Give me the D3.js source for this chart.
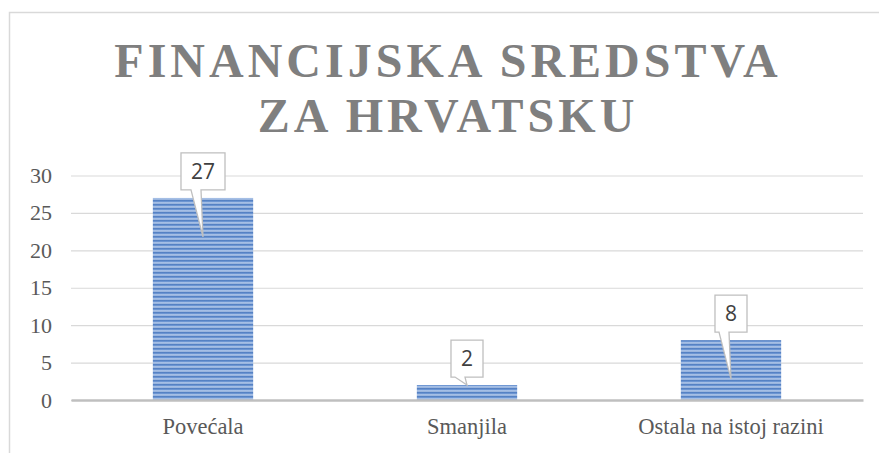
<!DOCTYPE html>
<html lang="hr">
<head>
<meta charset="UTF-8">
<title>Financijska sredstva za Hrvatsku</title>
<script src="https://d3js.org/d3.v7.min.js"></script>
<style>
  body { margin: 0; background: #fff; }
  svg { display: block; }
  .title { font-family: "Liberation Serif", "Times New Roman", serif; font-weight: bold; fill: #7f7f7f; }
  .tick text, .cat { font-family: "Liberation Serif", "Times New Roman", serif; fill: #595959; }
  .lbl { font-family: "Open Sans", "Liberation Sans", sans-serif; fill: #404040; }
</style>
</head>
<body>
<div id="chart"></div>
<script>
// data
const categories = ["Povećala", "Smanjila", "Ostala na istoj razini"];
const values = [27, 2, 8];
const yTicks = [0, 5, 10, 15, 20, 25, 30];
const titleLines = ["FINANCIJSKA SREDSTVA", "ZA HRVATSKU"];

const W = 879, H = 453;
const plot = { left: 71, right: 863, top: 175.5, bottom: 400 };

const svg = d3.select("#chart").append("svg")
    .attr("width", W).attr("height", H);

// striped fill for the bars
const defs = svg.append("defs");
const grad = defs.append("linearGradient")
    .attr("id", "stripeGrad").attr("x1", 0).attr("y1", 0).attr("x2", 0).attr("y2", 1);
grad.append("stop").attr("offset", "0%").attr("stop-color", "#4a78bd");
grad.append("stop").attr("offset", "45%").attr("stop-color", "#739bd6");
grad.append("stop").attr("offset", "75%").attr("stop-color", "#c8d8f0");
grad.append("stop").attr("offset", "100%").attr("stop-color", "#6b92cd");
const pat = defs.append("pattern")
    .attr("id", "stripes").attr("patternUnits", "userSpaceOnUse")
    .attr("width", 8).attr("height", 4);
pat.append("rect").attr("width", 8).attr("height", 4).attr("fill", "url(#stripeGrad)");

// outer border
svg.append("rect")
    .attr("x", 9.5).attr("y", 12.5)
    .attr("width", W).attr("height", H)
    .attr("fill", "none").attr("stroke", "#d9d9d9").attr("stroke-width", 1.5);

// title
svg.append("g").selectAll("text")
  .data(titleLines)
  .enter().append("text")
    .attr("class", "title")
    .attr("x", 448)
    .attr("y", (d, i) => 77 + i * 55)
    .attr("text-anchor", "middle")
    .attr("font-size", 48)
    .attr("letter-spacing", 4)
    .text(d => d);

const x = d3.scaleBand()
    .domain(categories)
    .range([plot.left, plot.right])
    .paddingInner(0.62).paddingOuter(0.31);

const y = d3.scaleLinear()
    .domain([0, 30])
    .range([plot.bottom, plot.top]);

// gridlines + y labels
const yAxis = svg.append("g")
    .attr("transform", `translate(${plot.left},0)`)
    .call(d3.axisLeft(y).tickValues(yTicks).tickSize(-(plot.right - plot.left)).tickPadding(19));
yAxis.select(".domain").remove();
yAxis.selectAll(".tick line").attr("stroke", "#d9d9d9").attr("stroke-width", 1.2);
yAxis.selectAll(".tick text").attr("font-size", 22);

// bars
svg.append("g").selectAll("rect")
  .data(values)
  .enter().append("rect")
    .attr("x", (d, i) => x(categories[i]))
    .attr("y", d => y(d))
    .attr("width", x.bandwidth())
    .attr("height", d => y(0) - y(d))
    .attr("fill", "url(#stripes)");

// category axis
const xAxis = svg.append("g")
    .attr("transform", `translate(0,${plot.bottom})`)
    .call(d3.axisBottom(x).tickSize(0).tickPadding(18));
xAxis.select(".domain").attr("stroke", "#bfbfbf").attr("stroke-width", 2.5);
xAxis.selectAll(".tick text").attr("class", "cat").attr("font-size", 22.5);

// callout data labels
const lbl = svg.append("g").selectAll("g")
  .data(values)
  .enter().append("g");

lbl.each(function(d, i) {
  const g = d3.select(this);
  const cx = x(categories[i]) + x.bandwidth() / 2;
  const top = y(d);
  const boxB = top - 8, boxT = boxB - 37;
  const t = g.append("text")
      .attr("class", "lbl")
      .attr("x", cx).attr("y", boxB - 11)
      .attr("text-anchor", "middle")
      .attr("font-size", 21)
      .text(d);
  const tw = t.node().getComputedTextLength();
  const bw = tw + 20;
  const bl = cx - bw / 2, br = cx + bw / 2;
  const tipY = (y(0) - top) > 40 ? top + 39 : top;
  const path = `M${bl},${boxT} L${br},${boxT} L${br},${boxB} L${cx - 2},${boxB} L${cx},${tipY} L${cx - 12},${boxB} L${bl},${boxB} Z`;
  g.insert("path", "text")
      .attr("d", path)
      .attr("fill", "#fff")
      .attr("stroke", "#bfbfbf")
      .attr("stroke-width", 1.3);
});
</script>
</body>
</html>
